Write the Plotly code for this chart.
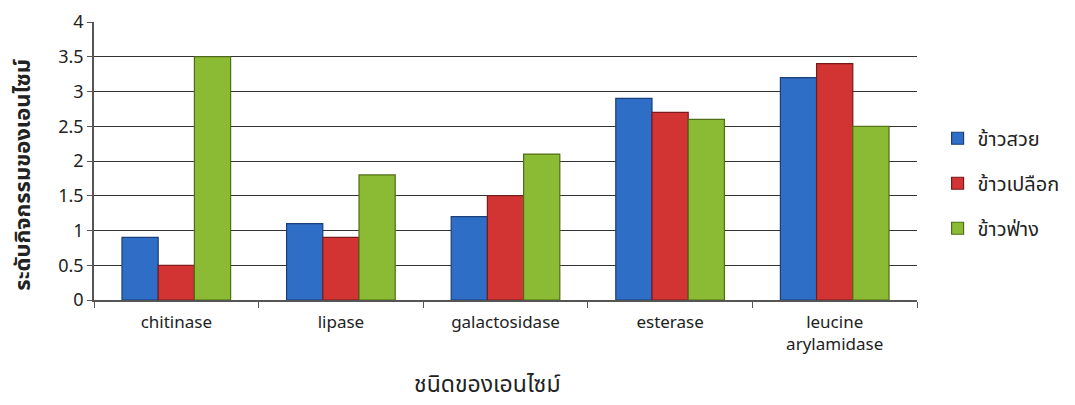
import plotly.graph_objects as go

categories = ["chitinase", "lipase", "galactosidase", "esterase", "leucine<br>arylamidase"]
series_names = ["ข้าวสวย", "ข้าวเปลือก", "ข้าวฟ่าง"]
val_rice = [0.9, 1.1, 1.2, 2.9, 3.2]
val_paddy = [0.5, 0.9, 1.5, 2.7, 3.4]
val_millet = [3.5, 1.8, 2.1, 2.6, 2.5]
y_ticks = [0, 0.5, 1, 1.5, 2, 2.5, 3, 3.5, 4]
x_title = "ชนิดของเอนไซม์"
y_title = "ระดับกิจกรรมของเอนไซม์"

colors = ["#2f6ec6", "#d23434", "#8bbb34"]
lines = ["#1b3f78", "#7a1a1a", "#4f6e16"]

fig = go.Figure()
for i, (name, vals) in enumerate(zip(series_names, [val_rice, val_paddy, val_millet])):
    fig.add_trace(go.Bar(
        x=categories, y=vals, name=name, legendgroup=str(i),
        marker=dict(color=colors[i], line=dict(color=lines[i], width=1.2)),
    ))

fig.update_layout(
    width=1075, height=405,
    margin=dict(l=94, r=158, t=22, b=105, autoexpand=False),
    paper_bgcolor="white", plot_bgcolor="white",
    barmode="group", bargap=0.34, bargroupgap=0,
    font=dict(family="Noto Sans, Noto Sans Thai, sans-serif", color="#222"),
    legend=dict(x=1.025, y=0.42, yanchor="middle", xanchor="left",
                font=dict(size=20, color="#222"), tracegroupgap=16,
                itemwidth=30),
    showlegend=True,
    annotations=[
        dict(text=x_title, xref="paper", yref="paper", x=(487 - 94) / 823, y=-0.3,
             xanchor="center", yanchor="middle", showarrow=False,
             font=dict(size=23, color="#222")),
        dict(text="<b>" + y_title + "</b>", xref="paper", yref="paper",
             x=-0.089, y=(300 - 175) / 278, textangle=-90,
             xanchor="center", yanchor="middle", showarrow=False,
             font=dict(size=22, color="#222")),
    ],
)
fig.update_xaxes(
    showline=True, linecolor="#555", linewidth=1.5,
    ticks="outside", tickson="boundaries", ticklen=6, tickcolor="#555",
    tickfont=dict(size=17, color="#222"), ticklabelstandoff=6,
)
fig.update_yaxes(
    range=[0, 4], tickvals=y_ticks, ticktext=[f"{v:g}" for v in y_ticks],
    showline=True, linecolor="#555", linewidth=1.5,
    showgrid=True, gridcolor="#333", gridwidth=1.3,
    ticks="outside", ticklen=5, tickcolor="#555",
    tickfont=dict(size=18, color="#222"),
)

fig.write_html("out.html")
